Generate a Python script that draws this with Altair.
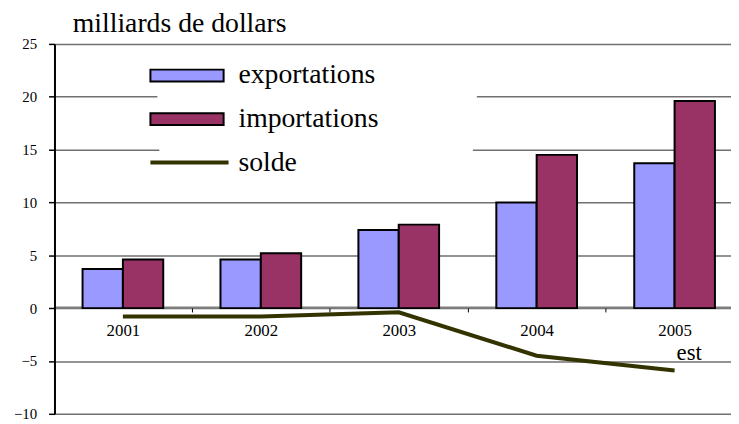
import altair as alt
import pandas as pd

years = [2001, 2002, 2003, 2004, 2005]
exportations = [3.7, 4.6, 7.4, 10.0, 13.7]
importations = [4.6, 5.2, 7.9, 14.5, 19.6]
solde = [-0.8, -0.8, -0.4, -4.5, -5.9]
notes = ["", "", "", "", "est"]

bar_series = ["exportations", "importations"]
bar_colors = ["#9999FF", "#993366"]
line_series = ["solde"]
line_colors = ["#333300"]
y_ticks = [-10, -5, 0, 5, 10, 15, 20, 25]
x_ticks = [2001, 2001.5, 2002, 2002.5, 2003, 2003.5, 2004, 2004.5, 2005]
x_domain = [2000.504, 2005.409]
bar_width = 0.2925  # width of one bar, in years

FONT = "Liberation Serif"

bars_df = pd.DataFrame(
    {
        "annee": years * 2,
        "serie": ["exportations"] * len(years) + ["importations"] * len(years),
        "valeur": exportations + importations,
    }
)
line_df = pd.DataFrame(
    {"annee": years, "serie": ["solde"] * len(years), "valeur": solde, "note": notes}
)

x_scale = alt.Scale(domain=x_domain, nice=False, zero=False)

x_axis = alt.Axis(
    title=None,
    orient="bottom",
    offset=-108,
    values=x_ticks,
    labelExpr="datum.value % 1 === 0 ? format(datum.value, 'd') : ''",
    labelOverlap=False,
    labelAngle=0,
    labelFont=FONT,
    labelFontSize=17,
    labelColor="black",
    labelPadding=24,
    labelBaseline="alphabetic",
    tickSize=5,
    tickColor="black",
    tickWidth=1,
    tickOpacity={"condition": {"test": "datum.value % 1 === 0", "value": 0}, "value": 1},
    domainColor="#808080",
    domainWidth=2,
    grid=False,
)

y_enc = alt.Y(
    "valeur:Q",
    scale=alt.Scale(domain=[-10, 25], nice=False),
    axis=alt.Axis(
        values=y_ticks,
        title="milliards de dollars",
        titleAngle=0,
        titleX=18,
        titleY=-13,
        titleAlign="left",
        titleBaseline="alphabetic",
        titleFont=FONT,
        titleFontSize=28,
        titleFontWeight="normal",
        titleColor="black",
        labelFont=FONT,
        labelFontSize=15,
        labelColor="black",
        labelPadding=12,
        tickSize=6,
        tickColor="black",
        tickWidth=1.5,
        domainColor="black",
        domainWidth=2,
        grid=True,
        gridColor="#707070",
        gridWidth=1.5,
    ),
)

# legend symbol shapes, in units of sqrt(symbolSize)/2 = 10 px; the leading
# moveTo's only widen the white legend box, as in the original legend area
rect_path = "M-10,0M27.3,0M-3.7,-0.6H3.7V0.6H-3.7Z"
line_path = "M-9.4,0M26.7,0M-3.7,0H4.2"

legend_common = dict(
    title=None,
    orient="none",
    direction="vertical",
    fillColor="white",
    labelFont=FONT,
    labelFontSize=28,
    labelColor="black",
    labelOffset=38,
    symbolSize=400,
)

bars = (
    alt.Chart(bars_df)
    .transform_calculate(
        x0=f"datum.serie === 'exportations' ? datum.annee - {bar_width} : datum.annee",
    )
    .transform_calculate(x1=f"datum.x0 + {bar_width}")
    .mark_bar(stroke="black", strokeWidth=2)
    .encode(
        x=alt.X("x0:Q", scale=x_scale, axis=x_axis),
        x2="x1:Q",
        y=y_enc,
        y2=alt.datum(0),
        fill=alt.Fill(
            "serie:N",
            scale=alt.Scale(domain=bar_series, range=bar_colors),
            legend=alt.Legend(
                legendX=104,
                legendY=2,
                padding=16,
                rowPadding=16,
                zindex=1,
                symbolType=rect_path,
                symbolStrokeColor="black",
                symbolStrokeWidth=2,
                **legend_common,
            ),
        ),
    )
)

line = (
    alt.Chart(line_df)
    .mark_line(strokeWidth=4)
    .encode(
        x=alt.X("annee:Q"),
        y="valeur:Q",
        stroke=alt.Stroke(
            "serie:N",
            scale=alt.Scale(domain=line_series, range=line_colors),
            legend=alt.Legend(
                legendX=106,
                legendY=92,
                padding=14,
                zindex=2,
                symbolType=line_path,
                symbolStrokeWidth=4,
                **legend_common,
            ),
        ),
    )
)

label = (
    alt.Chart(line_df)
    .transform_filter("datum.note != ''")
    .mark_text(align="left", baseline="alphabetic", dx=2, dy=-10.6, font=FONT, fontSize=23, color="black")
    .encode(x=alt.X("annee:Q"), y="valeur:Q", text="note:N")
)

chart = (
    alt.layer(bars, line, label)
    .resolve_scale(fill="independent", stroke="independent")
    .properties(
        width=684,
        height=374,
        autosize=alt.AutoSizeParams(type="none"),
        padding={"left": 47, "top": 34, "right": 0, "bottom": 8},
        background="white",
    )
    .configure_view(stroke="transparent")
)

chart.save("out.html", embed_options={"renderer": "svg", "actions": False})
